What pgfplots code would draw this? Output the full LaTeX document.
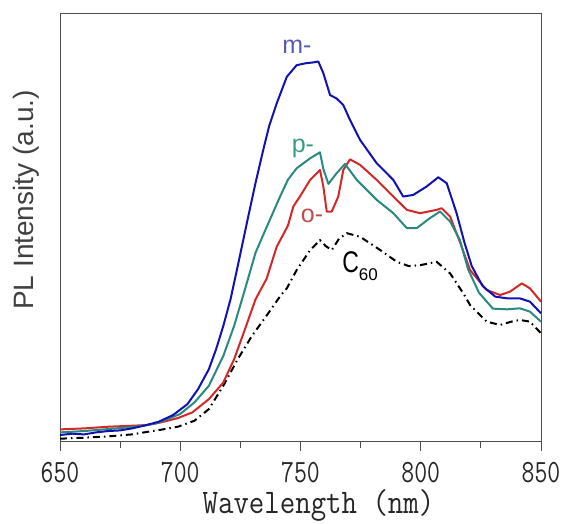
\documentclass[border=0pt]{standalone}
\usepackage{fontspec}
\setmainfont{Liberation Sans}
\usepackage{graphicx}
\usepackage{pgfplots}
\pgfplotsset{compat=1.18}
\definecolor{cblue}{HTML}{1212B4}
\definecolor{cteal}{HTML}{2A8A80}
\definecolor{cred}{HTML}{D42828}
\definecolor{lblue}{HTML}{5A5AB0}
\definecolor{lteal}{HTML}{3A9A88}
\definecolor{lred}{HTML}{B85050}
\newcommand\tl[1]{\scalebox{1}[1.3]{\fontsize{25}{25}\ttfamily #1}}

\pgfplotstableread{
x y
650 20
655 24
660 22
665 28
670 32
675 34
680 40
686 50
691 60
697 80
703 113
707.4 158
711.9 218
714.9 278
717.9 348
720.9 428
723.9 528
728.3 678
731.3 778
734.5 877
737 950
740.1 1017
744.3 1097
748.4 1132
752.3 1138
755 1140
757.4 1143
759.5 1108
762.3 1042
765 1032
767.8 1012
770.6 967
774.8 907
781.7 837
788.6 787
792.7 737
796.9 742
802.4 767
807.3 795
810.8 777
814.9 687
818.2 598
821.2 528
825.7 468
831 436
836 431
841.2 431
845.4 421
850 386
}\mdata

\pgfplotstableread{
x y
650 28
660 32
670 38
680 44
686 50
690 55
699.9 83
705.9 118
711.9 168
717.9 258
722.4 348
726.9 458
731.3 568
735 630
741.5 737
744.8 788
748.4 822
754 852
758.1 870
759.5 820
761.6 775
765 807
768.5 835
773.4 787
781.7 727
788.6 687
794.2 642
798.3 642
803.8 672
808 692
812.2 662
816.3 606
819.7 518
824.2 448
830 400
836 398
841.2 401
845.4 391
850 361
}\pdata

\pgfplotstableread{
x y
650 37
660 40
670 45
680 48
686 50
692 58
699 71
705 88
711.9 128
717.9 178
722.4 248
726.9 338
731.3 428
735.9 490
740.1 586
744.8 650
747 707
750 740
754 787
758.1 817
759.5 767
760.9 692
763 692
765.7 737
767.8 817
770.6 849
774.8 832
781.7 787
788.6 737
794.2 697
799.7 687
806.6 697
808.7 702
812.2 677
816.3 600
820.5 516
827.4 456
833 441
837.1 451
842 476
845.4 461
850 421
}\odata

\pgfplotstableread{
x y
650 9
660 12
670 16
680 22
686.7 30
692 36
699 45
705.9 63
711.9 98
717.9 168
723.9 248
729.8 318
735.8 378
741.8 440
744.3 461
748.4 516
754 576
758.1 606
760.5 588
763 576
766 610
769.2 627
774.8 616
783.2 576
790 541
795 528
800 531
806.6 541
812.2 506
817.7 446
820.5 411
827.4 361
833 351
837.7 361
841.2 366
845.4 361
850 326
}\cdata

\begin{document}
\begin{tikzpicture}
\begin{axis}[
  scale only axis, width=481pt, height=428.4pt,
  xmin=650, xmax=850, ymin=0, ymax=1288,
  axis line style={draw=black!70, line width=0.8pt},
  ytick=\empty,
  xtick={650,700,750,800,850},
  xticklabels={\tl{650},\tl{700},\tl{750},\tl{800},\tl{850}},
  minor x tick num=1,
  tick align=outside,
  xtick pos=bottom,
  major tick length=9pt, minor tick length=6pt,
  tick style={black!70, line width=0.8pt},
  xticklabel style={anchor=base, yshift=-32pt, text=black!85},
  xlabel={\scalebox{1}[1.15]{\fontsize{30}{30}\ttfamily Wavelength (nm)}},
  every axis x label/.style={at={(rel axis cs:0.5374,-0.168)}, anchor=base, text=black!85},
  ylabel={\fontsize{28}{28}\selectfont PL Intensity (a.u.)},
  every axis y label/.style={at={(rel axis cs:-0.0555,0.5642)}, anchor=base, rotate=90, text=black!75},
  every axis plot/.append style={line width=2pt, line join=round},
]
\addplot[black, dash pattern=on 7pt off 4pt on 1.5pt off 4pt] table {\cdata};
\addplot[cred] table {\odata};
\addplot[cteal] table {\pdata};
\addplot[cblue] table {\mdata};
\node[text=lblue, font=\fontsize{25}{25}\selectfont] at (axis cs:748.5,1187) {m-};
\node[text=lteal, font=\fontsize{25}{25}\selectfont] at (axis cs:751,883) {p-};
\node[text=lred, font=\fontsize{25}{25}\selectfont] at (axis cs:754.8,678) {o-};
\node[anchor=base west, inner sep=0pt, text=black] at (axis cs:767.3,510) {\scalebox{1}[1.3]{\fontsize{23}{23}\selectfont C}\raisebox{-8pt}{\fontsize{17}{17}\selectfont 60}};
\end{axis}
\pgfresetboundingbox
\path ([xshift=-60pt,yshift=-82.3pt]current axis.south west) rectangle ([xshift=24pt,yshift=13.3pt]current axis.north east);
\end{tikzpicture}
\end{document}
